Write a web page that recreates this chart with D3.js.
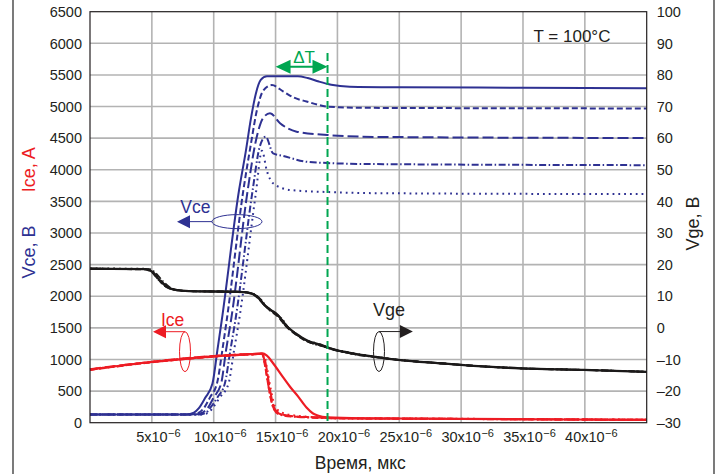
<!DOCTYPE html>
<html>
<head>
<meta charset="utf-8">
<script src="https://cdn.jsdelivr.net/npm/d3@7"></script>
<style>
  html, body { margin: 0; padding: 0; background: #fff; }
  svg { display: block; font-family: "Liberation Sans", Arial, Helvetica, sans-serif; }
</style>
</head>
<body>
<div id="chart"></div>
<script>
// время в мкс, Vce и Ice по левой оси, Vge по правой оси
const timeTicks = [5, 10, 15, 20, 25, 30, 35, 40];
const leftTicks = [0, 500, 1000, 1500, 2000, 2500, 3000, 3500, 4000, 4500, 5000, 5500, 6000, 6500];
const rightTicks = [-30, -20, -10, 0, 10, 20, 30, 40, 50, 60, 70, 80, 90, 100];

// Vce, B (5 кривых)
const vceSolid = [[0,130],[7.8,130],[8.4,160],[8.8,230],[9.3,390],[9.9,620],[10.3,1150],[10.65,1620],[12.05,3680],[12.6,4300],[13.0,4800],[13.4,5200],[13.8,5420],[14.3,5480],[16.8,5480],[17.6,5450],[18.5,5395],[19.5,5345],[21,5315],[25,5305],[35,5298],[45,5290]];
const vceShortDash = [[0,130],[8.2,130],[8.8,160],[9.2,230],[9.7,400],[10.3,650],[10.7,1150],[11.05,1620],[12.4,3680],[13.0,4400],[13.5,4950],[14.0,5250],[14.7,5340],[15.6,5240],[16.5,5140],[17.5,5080],[19.2,5000],[22,4980],[45,4970]];
const vceLongDash = [[0,130],[8.5,130],[9.1,160],[9.5,230],[10.0,400],[10.6,620],[11.0,1150],[11.4,1620],[12.75,3680],[13.4,4450],[14.0,4820],[14.55,4895],[15.36,4737],[16.7,4603],[19.2,4550],[23,4520],[45,4502]];
const vceDashDot = [[0,130],[8.8,130],[9.4,160],[9.7,230],[10.3,400],[10.9,620],[11.35,1150],[11.75,1620],[13.15,3680],[13.7,4350],[14.2,4523],[14.8,4260],[15.6,4220],[17.5,4127],[19.2,4107],[23,4090],[45,4073]];
const vceDotted = [[0,130],[9.0,130],[9.6,160],[9.9,230],[10.5,400],[11.2,620],[11.65,1150],[12.05,1620],[13.4,3620],[13.9,4300],[14.3,3980],[14.8,3786],[16.2,3680],[19.2,3648],[23,3630],[45,3615]];

// Ice, A (5 кривых)
const iceSolid = [[0,840],[5,960],[10,1050],[13.0,1085],[13.9,1095],[14.3,1060],[14.8,940],[15.6,720],[16.2,560],[16.8,420],[17.5,240],[18.0,150],[18.4,115],[19.2,85],[22,70],[30,60],[45,45]];
const iceShortDash = [[0,835],[5,955],[10,1045],[13.0,1080],[13.9,1090],[14.15,900],[14.45,550],[14.8,250],[15.2,150],[16,110],[17.5,90],[20,72],[30,60],[45,45]];
const iceLongDash = [[0,845],[5,965],[10,1055],[13.0,1085],[14.0,1090],[14.25,880],[14.55,520],[14.9,230],[15.4,140],[16.5,100],[18,85],[20,70],[30,60],[45,45]];
const iceDashDot = [[0,838],[5,958],[10,1048],[13.0,1082],[13.95,1088],[14.2,850],[14.5,500],[14.85,220],[15.3,130],[16.5,95],[18,80],[20,68],[30,58],[45,45]];
const iceDotted = [[0,842],[5,962],[10,1052],[13.0,1084],[14.05,1085],[14.3,870],[14.6,540],[14.95,260],[15.5,160],[16.5,115],[18,90],[20,75],[30,62],[45,47]];

// Vge, B (5 кривых)
const vgeSolid = [[0,18.7],[4.5,18.6],[5.0,17.8],[5.6,15.2],[6.2,13.0],[6.9,12.0],[8,11.6],[12.1,11.4],[13.1,10.8],[13.6,9.5],[14.1,7.2],[14.6,5.7],[15.2,4.0],[15.8,0.9],[16.6,-1.7],[17.6,-4.1],[18.7,-5.4],[19.4,-6.5],[21,-7.9],[22.9,-9.1],[25.1,-10.2],[28.3,-11.2],[31,-12.0],[34.8,-12.8],[39.9,-13.3],[45,-13.9]];
const vgeShortDash = [[0,18.6],[4.3,18.5],[4.9,17.9],[5.4,15.8],[6.0,13.4],[6.7,12.1],[8,11.6],[12.1,11.4],[13.0,10.9],[13.5,9.7],[14.0,7.6],[14.6,5.3],[15.2,3.5],[15.8,0.6],[16.6,-2.0],[17.6,-4.4],[18.7,-5.6],[19.4,-6.6],[21,-8.0],[22.9,-9.1],[25.1,-10.2],[28.3,-11.2],[31,-12.0],[34.8,-12.8],[39.9,-13.3],[45,-13.9]];
const vgeLongDash = [[0,18.7],[4.6,18.6],[5.1,17.6],[5.7,15.0],[6.3,12.9],[7.0,12.0],[8,11.6],[12.2,11.4],[13.2,10.7],[13.7,9.2],[14.2,6.8],[14.8,5.0],[15.4,3.2],[16.0,0.2],[16.8,-2.4],[17.8,-4.6],[18.9,-5.8],[19.6,-6.7],[21,-8.0],[22.9,-9.1],[25.1,-10.2],[28.3,-11.2],[31,-12.0],[34.8,-12.8],[39.9,-13.3],[45,-13.9]];
const vgeDashDot = [[0,18.7],[4.8,18.6],[5.3,17.4],[5.9,14.7],[6.5,12.7],[7.1,11.9],[8,11.6],[12.3,11.4],[13.3,10.6],[13.8,9.0],[14.3,6.6],[14.9,4.7],[15.5,2.9],[16.1,-0.2],[16.9,-2.6],[17.9,-4.8],[19.0,-6.0],[19.7,-6.8],[21,-8.1],[22.9,-9.2],[25.1,-10.2],[28.3,-11.2],[31,-12.0],[34.8,-12.8],[39.9,-13.3],[45,-13.9]];
const vgeDotted = [[0,18.8],[4.4,18.7],[5.0,17.7],[5.5,15.4],[6.1,13.2],[6.8,12.1],[8,11.6],[12.0,11.4],[13.0,10.9],[13.5,9.8],[14.0,7.8],[14.5,5.9],[15.1,4.2],[15.7,1.2],[16.5,-1.4],[17.5,-3.9],[18.6,-5.2],[19.3,-6.3],[21,-7.8],[22.9,-9.0],[25.1,-10.2],[28.3,-11.2],[31,-12.0],[34.8,-12.8],[39.9,-13.3],[45,-13.9]];

const vceSeries = [vceSolid, vceShortDash, vceLongDash, vceDashDot, vceDotted];
const iceSeries = [iceSolid, iceShortDash, iceLongDash, iceDashDot, iceDotted];
const vgeSeries = [vgeSolid, vgeShortDash, vgeLongDash, vgeDashDot, vgeDotted];

// ΔT: от 15 до 19.2 мкс
const deltaT = [15.0, 19.2];

function drawChart() {
  const W = 717, H = 474;
  const plot = { left: 90, right: 646.7, top: 11.7, bottom: 422.7 };

  const svg = d3.select("#chart").append("svg")
    .attr("width", W).attr("height", H);

  const x = d3.scaleLinear().domain([0, 45]).range([plot.left, plot.right]);
  const yL = d3.scaleLinear().domain([0, 6500]).range([plot.bottom, plot.top]);
  const yR = d3.scaleLinear().domain([-30, 100]).range([plot.bottom, plot.top]);

  const blue = "#2e3192", red = "#ed1c24", black = "#1c1a1a", green = "#00a651", ink = "#231f20";
  const dashes = [null, "6,3", "11,4", "7,2.5,1.5,2.5", "1.8,4"];

  // рамка вокруг всего рисунка (видны только боковые стороны)
  svg.append("line").attr("x1", 13).attr("x2", 13).attr("y1", 0).attr("y2", H)
    .attr("stroke", "#333").attr("stroke-width", 1.3);
  svg.append("line").attr("x1", 714).attr("x2", 714).attr("y1", 0).attr("y2", H)
    .attr("stroke", "#333").attr("stroke-width", 1.3);

  // сетка
  svg.append("g").selectAll("line")
    .data(timeTicks).enter().append("line")
    .attr("x1", d => x(d)).attr("x2", d => x(d))
    .attr("y1", plot.top).attr("y2", plot.bottom)
    .attr("stroke", "#b3b3b3").attr("stroke-width", 1.6);
  svg.append("g").selectAll("line")
    .data(leftTicks.slice(1, -1)).enter().append("line")
    .attr("x1", plot.left).attr("x2", plot.right)
    .attr("y1", d => yL(d)).attr("y2", d => yL(d))
    .attr("stroke", "#b3b3b3").attr("stroke-width", 1.6);

  // левая ось
  svg.append("g").selectAll("text")
    .data(leftTicks).enter().append("text")
    .attr("x", plot.left - 8).attr("y", d => yL(d))
    .attr("dy", "0.36em").attr("text-anchor", "end")
    .style("font-size", "14.5px").style("fill", ink)
    .text(d => d);

  // правая ось
  svg.append("g").selectAll("text")
    .data(rightTicks).enter().append("text")
    .attr("x", plot.right + 10).attr("y", d => yR(d))
    .attr("dy", "0.36em").attr("text-anchor", "start")
    .style("font-size", "14.5px").style("fill", ink)
    .text(d => d < 0 ? "\u2013" + Math.abs(d) : d);

  // ось времени: 5x10^-6 ...
  const xt = svg.append("g");
  timeTicks.forEach(t => {
    const base = xt.append("text")
      .attr("x", x(t)).attr("y", 442)
      .attr("text-anchor", "middle")
      .style("font-size", "14.5px").style("fill", ink)
      .text(t + "x10");
    const w = base.node().getComputedTextLength();
    xt.append("text")
      .attr("x", x(t) + w / 2 + 0.5).attr("y", 437)
      .style("font-size", "11px").style("fill", ink)
      .text("\u22126");
  });

  // подписи осей
  svg.append("text")
    .attr("x", x(22.5) - 8).attr("y", 469)
    .attr("text-anchor", "middle")
    .style("font-size", "17.5px").style("fill", ink)
    .text("Время, мкс");

  svg.append("text")
    .attr("transform", `translate(35, ${yL(2700)}) rotate(-90)`)
    .attr("text-anchor", "middle")
    .style("font-size", "18px").style("fill", blue)
    .text("Vce, B");
  svg.append("text")
    .attr("transform", `translate(35, ${yL(4000)}) rotate(-90)`)
    .attr("text-anchor", "middle")
    .style("font-size", "18px").style("fill", red)
    .text("Ice, A");
  svg.append("text")
    .attr("transform", `translate(699, ${yR(33)}) rotate(-90)`)
    .attr("text-anchor", "middle")
    .style("font-size", "18px").style("fill", ink)
    .text("Vge, B");

  // кривые
  const lineL = d3.line().x(d => x(d[0])).y(d => yL(d[1])).curve(d3.curveMonotoneX);
  const lineR = d3.line().x(d => x(d[0])).y(d => yR(d[1])).curve(d3.curveMonotoneX);

  svg.append("g").selectAll("path")
    .data(vceSeries).enter().append("path")
    .attr("d", lineL)
    .attr("fill", "none").attr("stroke", blue).attr("stroke-width", 2)
    .attr("stroke-dasharray", (d, i) => dashes[i]);

  svg.append("g").selectAll("path")
    .data(vgeSeries).enter().append("path")
    .attr("d", lineR)
    .attr("fill", "none").attr("stroke", black)
    .attr("stroke-width", (d, i) => i === 0 ? 2.3 : 1.8)
    .attr("stroke-dasharray", (d, i) => dashes[i]);

  svg.append("g").selectAll("path")
    .data(iceSeries).enter().append("path")
    .attr("d", lineL)
    .attr("fill", "none").attr("stroke", red)
    .attr("stroke-width", (d, i) => i === 0 ? 2.2 : 2)
    .attr("stroke-dasharray", (d, i) => dashes[i]);

  // рамка области графика
  svg.append("rect")
    .attr("x", plot.left).attr("y", plot.top)
    .attr("width", plot.right - plot.left).attr("height", plot.bottom - plot.top)
    .attr("fill", "none").attr("stroke", ink).attr("stroke-width", 1.2);

  // аннотация Vce
  const vceY = yL(3180);
  svg.append("text").attr("x", x(7.3)).attr("y", yL(3320))
    .style("font-size", "17.5px").style("fill", blue).text("Vce");
  svg.append("ellipse").attr("cx", x(11.88)).attr("cy", vceY).attr("rx", 25).attr("ry", 7)
    .attr("fill", "none").attr("stroke", blue).attr("stroke-width", 1);
  svg.append("line").attr("x1", x(7.03) + 10).attr("x2", x(11.88) - 25)
    .attr("y1", vceY).attr("y2", vceY).attr("stroke", blue).attr("stroke-width", 1);
  svg.append("path")
    .attr("d", `M${x(7.03)},${vceY} l13,-6.5 l0,13 Z`).attr("fill", blue);

  // аннотация Ice
  const iceCx = x(7.68), iceCy = yL(1123);
  svg.append("text").attr("x", x(5.74)).attr("y", yL(1529))
    .style("font-size", "17.5px").style("fill", red).text("Ice");
  svg.append("ellipse").attr("cx", iceCx).attr("cy", iceCy).attr("rx", 5.5).attr("ry", 20)
    .attr("fill", "none").attr("stroke", red).attr("stroke-width", 1);
  svg.append("line").attr("x1", x(5.09) + 10).attr("x2", iceCx)
    .attr("y1", iceCy - 20).attr("y2", iceCy - 20).attr("stroke", red).attr("stroke-width", 1);
  svg.append("path")
    .attr("d", `M${x(5.09)},${iceCy - 20} l13,-6.5 l0,13 Z`).attr("fill", red);

  // аннотация Vge
  const vgeCx = x(23.36), vgeCy = yR(-7.5);
  svg.append("text").attr("x", x(22.88)).attr("y", yR(3.75))
    .style("font-size", "18px").style("fill", ink).text("Vge");
  svg.append("ellipse").attr("cx", vgeCx).attr("cy", vgeCy).attr("rx", 5.5).attr("ry", 20)
    .attr("fill", "none").attr("stroke", ink).attr("stroke-width", 1);
  svg.append("line").attr("x1", vgeCx).attr("x2", x(26.1) - 10)
    .attr("y1", vgeCy - 20).attr("y2", vgeCy - 20).attr("stroke", ink).attr("stroke-width", 1);
  svg.append("path")
    .attr("d", `M${x(26.1)},${vgeCy - 20} l-13,-6.5 l0,13 Z`).attr("fill", ink);

  // ΔT и зелёная линия
  svg.append("line")
    .attr("x1", x(deltaT[1])).attr("x2", x(deltaT[1]))
    .attr("y1", yL(5845)).attr("y2", plot.bottom)
    .attr("stroke", green).attr("stroke-width", 2).attr("stroke-dasharray", "8,4");
  const dtY = yL(5630);
  svg.append("line")
    .attr("x1", x(deltaT[0]) + 10).attr("x2", x(deltaT[1]) - 10)
    .attr("y1", dtY).attr("y2", dtY)
    .attr("stroke", green).attr("stroke-width", 2);
  svg.append("path")
    .attr("d", `M${x(deltaT[0])},${dtY} l15,-7 l0,14 Z`).attr("fill", green);
  svg.append("path")
    .attr("d", `M${x(deltaT[1])},${dtY} l-15,-7 l0,14 Z`).attr("fill", green);
  svg.append("text")
    .attr("x", x(17.3)).attr("y", dtY - 4)
    .attr("text-anchor", "middle")
    .style("font-size", "17px").style("fill", green)
    .text("\u0394T");

  // температура
  svg.append("text")
    .attr("x", x(38.96)).attr("y", yR(90.5))
    .attr("text-anchor", "middle")
    .style("font-size", "17px").style("fill", ink)
    .text("T = 100°C");
}

drawChart();
</script>
</body>
</html>
